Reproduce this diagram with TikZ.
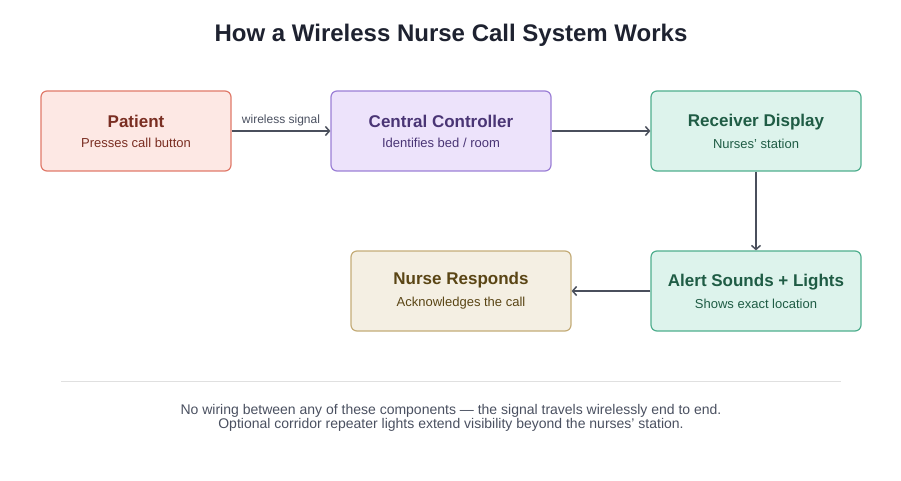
\documentclass[tikz,border=0pt]{standalone}
\usepackage{fontspec}
\setmainfont{Liberation Sans}
\usetikzlibrary{positioning,arrows.meta}
\definecolor{patfill}{HTML}{FDE8E4}\definecolor{patdraw}{HTML}{E07A6A}\definecolor{pattext}{HTML}{7A2E22}
\definecolor{cenfill}{HTML}{EDE3FB}\definecolor{cendraw}{HTML}{9B7FD6}\definecolor{centext}{HTML}{4A3575}
\definecolor{recfill}{HTML}{DDF3EC}\definecolor{recdraw}{HTML}{4FAE8E}\definecolor{rectext}{HTML}{1F5C45}
\definecolor{nurfill}{HTML}{F4EFE3}\definecolor{nurdraw}{HTML}{C4AC78}\definecolor{nurtext}{HTML}{5A4515}
\definecolor{arr}{HTML}{4A4F5C}\definecolor{foot}{HTML}{4A5060}\definecolor{ttl}{HTML}{1E2230}

\tikzset{
  box/.style={rectangle, rounded corners=6pt, draw, line width=1.2pt, minimum height=80pt, align=center},
  flow/.style={->, draw=arr, line width=1.5pt, >={Straight Barb[length=4pt,width=9pt]}}
}
\newcommand{\boxtext}[2]{{\fontsize{17}{20}\selectfont\bfseries #1}\\[8pt]{\fontsize{13}{15}\selectfont #2}}

\begin{document}
\begin{tikzpicture}[x=1pt,y=-1pt,node distance=305pt,on grid]
   \useasboundingbox (0,0) rectangle (901,481);
   \node[fill=white] (title) at (451,35) {\fontsize{24}{28}\selectfont\bfseries\color{ttl}How a Wireless Nurse Call System Works};

   \node[box, fill=patfill, draw=patdraw, text=pattext, minimum width=190pt] (patient) at (136,131) {\boxtext{Patient}{Presses call button}};
   \node[box, fill=cenfill, draw=cendraw, text=centext, minimum width=220pt] (central) [right=of patient] {\boxtext{Central Controller}{Identifies bed / room}};
   \node[box, fill=recfill, draw=recdraw, text=rectext, minimum width=210pt] (receiver) [right=315pt of central] {\boxtext{Receiver Display}{Nurses' station}};
   \node[box, fill=recfill, draw=recdraw, text=rectext, minimum width=210pt] (alert) [below=160pt of receiver] {\boxtext{Alert Sounds + Lights}{Shows exact location}};
   \node[box, fill=nurfill, draw=nurdraw, text=nurtext, minimum width=220pt] (nurse) [left=295pt of alert] {\boxtext{Nurse Responds}{Acknowledges the call}};

   \path[flow]
    (patient) edge node[above=1pt, text=foot] {\fontsize{12}{14}\selectfont wireless signal} (central)
    (central) edge (receiver)
    (receiver) edge (alert)
    (alert) edge (nurse);

   \coordinate (ruleL) at (61,381);
   \coordinate (ruleR) at (841,381);
   \draw[draw=black!12, line width=1pt] (ruleL) -- (ruleR);
   \node[text=foot, align=center] (footer) at (451,418) {\fontsize{14}{24}\selectfont No wiring between any of these components --- the signal travels wirelessly end to end.\\
     \fontsize{14}{24}\selectfont Optional corridor repeater lights extend visibility beyond the nurses' station.};
\end{tikzpicture}
\end{document}
